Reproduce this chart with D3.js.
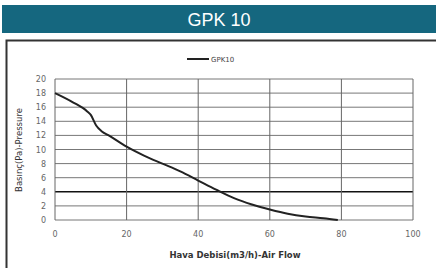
<html>
<head>
<meta charset="utf-8">
<script src="https://cdn.jsdelivr.net/npm/d3@7"></script>
<style>
  body { margin: 0; background: #fff; }
</style>
</head>
<body>
<div id="chart"></div>
<script>
// chart data
var seriesName = "GPK10";
var flow     = [0, 5, 9, 10, 11.5, 13, 15, 20, 25, 30, 35, 40, 45, 50, 55, 60, 65, 70, 75, 79];
var pressure = [18, 16.7, 15.4, 14.9, 13.4, 12.6, 12.0, 10.4, 9.1, 8.0, 6.9, 5.6, 4.3, 3.1, 2.2, 1.5, 0.9, 0.5, 0.25, 0];
var xTicks = [0, 20, 40, 60, 80, 100];
var yTicks = [0, 2, 4, 6, 8, 10, 12, 14, 16, 18, 20];

var width = 436, height = 268;
var plot = { left: 55, top: 79, right: 413, bottom: 220 };

var svg = d3.select("#chart").append("svg")
    .attr("width", width).attr("height", height);

// header bar
svg.append("rect").attr("x", 2).attr("y", 5).attr("width", 434).attr("height", 28)
    .attr("fill", "#15677f");
svg.append("text").attr("x", 219).attr("y", 26)
    .attr("text-anchor", "middle").attr("fill", "#fff")
    .style("font-family", "Arial, 'Liberation Sans', sans-serif").style("font-size", "18px")
    .text("GPK 10");

// outer frame
svg.append("path").attr("d", "M6.5,268 V40.5 H436")
    .attr("fill", "none").attr("stroke", "#333").attr("stroke-width", 2);

var x = d3.scaleLinear().domain([0, 100]).range([plot.left, plot.right]);
var y = d3.scaleLinear().domain([0, 20]).range([plot.bottom, plot.top]);

// grid
svg.selectAll(".hg").data(yTicks).enter().append("line")
    .attr("x1", plot.left).attr("x2", plot.right)
    .attr("y1", function (d) { return y(d); }).attr("y2", function (d) { return y(d); })
    .attr("stroke", function (d) { return d === 4 ? "#111" : "#777"; })
    .attr("stroke-width", function (d) { return d === 4 ? 1.5 : 1; });
svg.selectAll(".vg").data(xTicks).enter().append("line")
    .attr("y1", plot.top).attr("y2", plot.bottom)
    .attr("x1", function (d) { return x(d); }).attr("x2", function (d) { return x(d); })
    .attr("stroke", "#666").attr("stroke-width", 1);

// tick labels
svg.selectAll(".yt").data(yTicks).enter().append("text")
    .attr("x", 46).attr("y", function (d) { return y(d) + 3; })
    .attr("text-anchor", "end").attr("fill", "#666")
    .style("font-family", "'DejaVu Sans', sans-serif").style("font-size", "8px")
    .text(function (d) { return d; });
svg.selectAll(".xt").data(xTicks).enter().append("text")
    .attr("x", function (d) { return x(d); }).attr("y", 237)
    .attr("text-anchor", "middle").attr("fill", "#666")
    .style("font-family", "'DejaVu Sans', sans-serif").style("font-size", "8px")
    .text(function (d) { return d; });

// axis titles
svg.append("text").attr("x", 235).attr("y", 258)
    .attr("text-anchor", "middle").attr("fill", "#333")
    .style("font-family", "'DejaVu Sans', sans-serif").style("font-size", "8.5px").style("font-weight", "bold")
    .text("Hava Debisi(m3/h)-Air Flow");
svg.append("text")
    .attr("transform", "translate(22,150) rotate(-90)")
    .attr("text-anchor", "middle").attr("fill", "#333")
    .style("font-family", "'DejaVu Sans', sans-serif").style("font-size", "8.5px")
    .text("Basınç(Pa)-Pressure");

// curve
var line = d3.line()
    .x(function (d, i) { return x(flow[i]); })
    .y(function (d) { return y(d); })
    .curve(d3.curveMonotoneX);
svg.append("path").datum(pressure).attr("d", line)
    .attr("fill", "none").attr("stroke", "#222").attr("stroke-width", 2);

// legend
svg.append("line").attr("x1", 187).attr("x2", 209).attr("y1", 59).attr("y2", 59)
    .attr("stroke", "#222").attr("stroke-width", 2);
svg.append("text").attr("x", 211).attr("y", 62).attr("fill", "#444")
    .style("font-family", "'DejaVu Sans', sans-serif").style("font-size", "7px")
    .text(seriesName);
</script>
</body>
</html>
